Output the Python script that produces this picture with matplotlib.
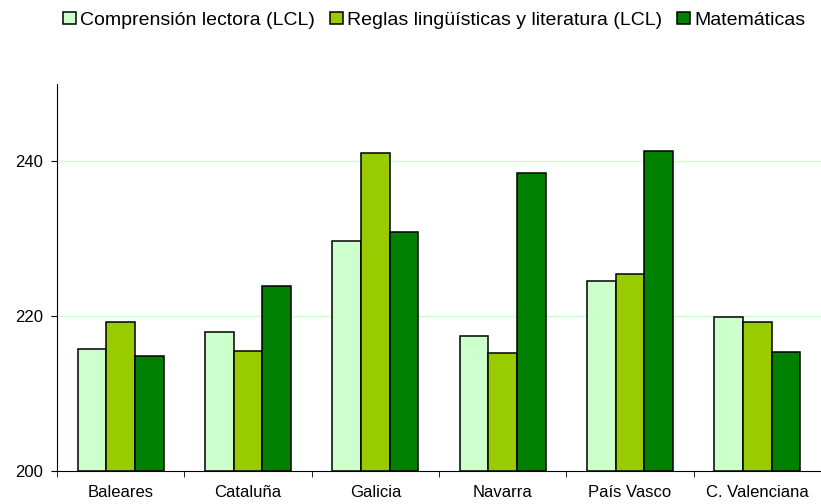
import numpy as np
import matplotlib.pyplot as plt

plt.rcParams['font.family'] = ['Liberation Sans', 'DejaVu Sans']

regiones = ["Baleares", "Cataluña", "Galicia", "Navarra", "País Vasco", "C. Valenciana"]
comprension = [215.7, 217.9, 229.7, 217.5, 224.5, 219.9]
reglas      = [219.3, 215.5, 241.1, 215.3, 225.5, 219.3]
matematicas = [214.9, 223.9, 230.9, 238.5, 241.4, 215.4]

series = [
    ("Comprensión lectora (LCL)", comprension, "#CCFFCC"),
    ("Reglas lingüísticas y literatura (LCL)", reglas, "#99CC00"),
    ("Matemáticas", matematicas, "#008000"),
]

fig = plt.figure(figsize=(8.21, 5.04), dpi=100)
ax = fig.add_axes([57/821, 1 - 471/504, 1 - 57/821, (471 - 84)/504])

x = np.arange(len(regiones))
w = 0.226
for i, (name, vals, col) in enumerate(series):
    ax.bar(x + (i - 1) * w, np.array(vals) - 200, bottom=200, width=w,
           color=col, edgecolor="black", linewidth=1.1, label=name, zorder=3)

ax.set_ylim(200, 250)
ax.set_yticks([200, 220, 240])
ax.set_xlim(-0.5, 5.46)
ax.set_xticks(x)
ax.set_xticklabels(regiones, fontsize=12)
ax.set_xticks(np.arange(-0.5, 6, 1), minor=True)
ax.tick_params(axis="x", which="major", length=0, pad=10)
ax.tick_params(axis="x", which="minor", length=4, direction="out")
ax.tick_params(axis="y", length=4, direction="out", labelsize=12, pad=6)

for v in [220, 240]:
    ax.axhline(v, color="#CCFFCC", linewidth=1, zorder=1)

for s in ["top", "right"]:
    ax.spines[s].set_visible(False)

fig.legend(loc="center", bbox_to_anchor=(0.529, 0.96), ncol=3, frameon=False,
           fontsize=14, handlelength=0.65, handleheight=0.65, handletextpad=0.25,
           columnspacing=0.75)

fig.savefig("out.png", dpi=100)
